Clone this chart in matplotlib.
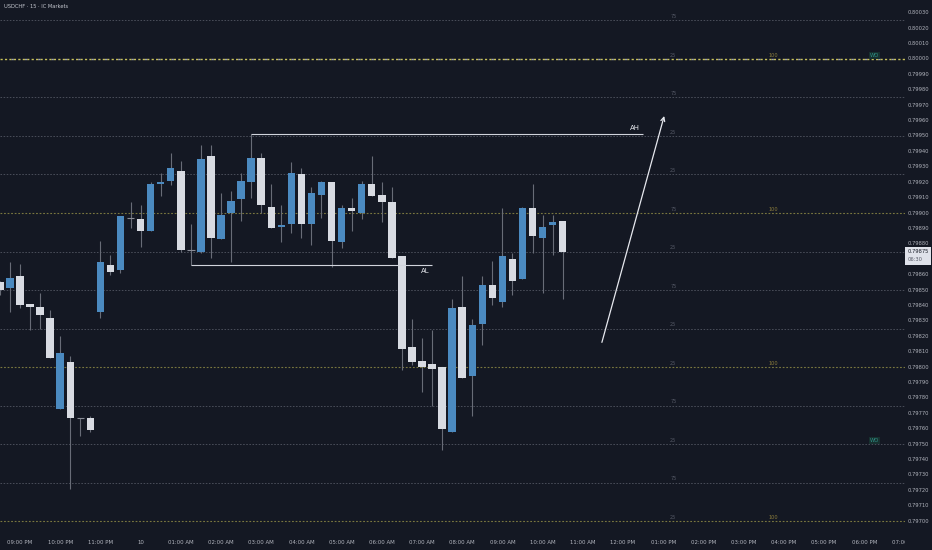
import matplotlib
matplotlib.use("Agg")
import matplotlib.pyplot as plt
from matplotlib.patches import Rectangle

# ---------------- data ----------------
candle_index = list(range(-2, 55))  # 15-minute bars, 0 = 09:00 PM
opens = [0.79855, 0.79851, 0.79859, 0.79841, 0.79839, 0.79832, 0.79773, 0.79803, 0.79767, 0.79767,
         0.79836, 0.79866, 0.79863, 0.79897, 0.79896, 0.79888, 0.79919, 0.79921, 0.79927, 0.79876,
         0.79875, 0.79937, 0.79883, 0.79900, 0.79909, 0.79920, 0.79936, 0.79904, 0.79891, 0.79893,
         0.79925, 0.79893, 0.79912, 0.79920, 0.79881, 0.79903, 0.79900, 0.79919, 0.79912, 0.79907,
         0.79872, 0.79813, 0.79804, 0.79802, 0.79800, 0.79758, 0.79839, 0.79794, 0.79828, 0.79853,
         0.79842, 0.79870, 0.79857, 0.79903, 0.79884, 0.79892, 0.79895]
highs = [0.79856, 0.79868, 0.79867, 0.79841, 0.79848, 0.79837, 0.79820, 0.79807, 0.79767, 0.79768,
         0.79882, 0.79873, 0.79898, 0.79907, 0.79905, 0.79920, 0.79926, 0.79939, 0.79934, 0.79893,
         0.79944, 0.79944, 0.79913, 0.79914, 0.79926, 0.79951, 0.79939, 0.79919, 0.79905, 0.79933,
         0.79929, 0.79917, 0.79921, 0.79920, 0.79905, 0.79910, 0.79921, 0.79937, 0.79920, 0.79917,
         0.79872, 0.79831, 0.79819, 0.79824, 0.79800, 0.79844, 0.79859, 0.79831, 0.79859, 0.79869,
         0.79903, 0.79874, 0.79904, 0.79919, 0.79899, 0.79899, 0.79895]
lows = [0.79847, 0.79836, 0.79838, 0.79824, 0.79825, 0.79806, 0.79773, 0.79721, 0.79755, 0.79758,
        0.79832, 0.79860, 0.79861, 0.79890, 0.79878, 0.79888, 0.79911, 0.79918, 0.79875, 0.79866,
        0.79874, 0.79871, 0.79883, 0.79868, 0.79895, 0.79910, 0.79900, 0.79890, 0.79881, 0.79887,
        0.79884, 0.79879, 0.79897, 0.79865, 0.79877, 0.79888, 0.79896, 0.79911, 0.79894, 0.79871,
        0.79798, 0.79801, 0.79784, 0.79775, 0.79746, 0.79758, 0.79793, 0.79768, 0.79814, 0.79840,
        0.79839, 0.79847, 0.79857, 0.79874, 0.79848, 0.79873, 0.79844]
closes = [0.79850, 0.79858, 0.79840, 0.79839, 0.79834, 0.79806, 0.79809, 0.79767, 0.79767, 0.79759,
          0.79868, 0.79862, 0.79898, 0.79897, 0.79888, 0.79919, 0.79920, 0.79929, 0.79876, 0.79876,
          0.79935, 0.79884, 0.79899, 0.79908, 0.79921, 0.79936, 0.79905, 0.79890, 0.79892, 0.79926,
          0.79893, 0.79913, 0.79920, 0.79882, 0.79903, 0.79901, 0.79919, 0.79911, 0.79907, 0.79871,
          0.79812, 0.79803, 0.79800, 0.79799, 0.79760, 0.79838, 0.79793, 0.79827, 0.79853, 0.79845,
          0.79872, 0.79856, 0.79903, 0.79885, 0.79891, 0.79894, 0.79875]

time_tick_pos = [0, 4, 8, 12, 16, 20, 24, 28, 32, 36, 40, 44, 48, 52, 56, 60, 64, 68, 72, 76, 80, 84, 88]
time_tick_labels = ["09:00 PM", "10:00 PM", "11:00 PM", "10", "01:00 AM", "02:00 AM", "03:00 AM",
                    "04:00 AM", "05:00 AM", "06:00 AM", "07:00 AM", "08:00 AM", "09:00 AM",
                    "10:00 AM", "11:00 AM", "12:00 PM", "01:00 PM", "02:00 PM", "03:00 PM",
                    "04:00 PM", "05:00 PM", "06:00 PM", "07:00 PM"]

price_ticks = [0.80030, 0.80020, 0.80010, 0.80000, 0.79990, 0.79980, 0.79970, 0.79960, 0.79950,
               0.79940, 0.79930, 0.79920, 0.79910, 0.79900, 0.79890, 0.79880, 0.79860, 0.79850,
               0.79840, 0.79830, 0.79820, 0.79810, 0.79800, 0.79790, 0.79780, 0.79770, 0.79760,
               0.79750, 0.79740, 0.79730, 0.79720, 0.79710, 0.79700]

quarter_levels = [0.79700, 0.79725, 0.79750, 0.79775, 0.79800, 0.79825, 0.79850, 0.79875,
                  0.79900, 0.79925, 0.79950, 0.79975, 0.80000, 0.80025]
quarter_tags = ["25", "75", "25", "75", "25", "25", "75", "25", "75", "25", "25", "75", "25", "75"]
hundred_levels = [0.79700, 0.79800, 0.79900, 0.80000]
open_levels = [0.80000, 0.79750]
open_tags = ["WO", "WO"]

ah_price, ah_start, ah_end = 0.79951, 23, 62
al_price, al_start, al_end = 0.79866, 17, 41
arrow_from = (57.9, 0.79816)
arrow_to = (64.1, 0.79963)
countdown = "06:30"

# ---------------- style ----------------
BG = "#141823"
UP = "#4b8ac0"
DOWN = "#d8dbe2"
WICK = "#686c77"
TXT = "#b2b5be"
plt.rcParams["font.family"] = ["DejaVu Sans"]

W, H = 932, 550
fig = plt.figure(figsize=(W / 100, H / 100), dpi=100, facecolor=BG)
ax = fig.add_axes([0, 18 / H, 905 / W, 532 / H], facecolor=BG)
ax.set_xlim(-1.99, 88.06)
ylo, yhi = 0.7969286, 0.8003831
ax.set_ylim(ylo, yhi)
for s in ax.spines.values():
    s.set_visible(False)

# levels
for lv in quarter_levels:
    if any(abs(lv - h) < 1e-9 for h in hundred_levels):
        continue
    ax.axhline(lv, color="#4a4e5a", lw=0.7, ls=(0, (1.6, 1.6)), zorder=1)
for lv in hundred_levels:
    if abs(lv - 0.80000) < 1e-9:
        ax.axhline(lv, color="#c9c25a", lw=1.0, ls=(0, (1.6, 1.6)), zorder=1)
        ax.axhline(lv, color="#a3a6ae", lw=1.0, ls=(1.6, (1.6, 8.0)), zorder=1.1)
    else:
        ax.axhline(lv, color="#7a773f", lw=0.8, ls=(0, (1.6, 1.6)), zorder=1)

for lv, tg in zip(quarter_levels, quarter_tags):
    ax.text(65, lv + 0.000008, tg, color="#555966", fontsize=3.6, ha="center", va="bottom", zorder=2)
for lv in hundred_levels:
    ax.text(75, lv + 0.000008, "100", color="#8c7d3c", fontsize=3.6, ha="center", va="bottom", zorder=2)
for lv, tg in zip(open_levels, open_tags):
    ax.text(85, lv + 0.000008, tg, color="#2f8f86", fontsize=3.8, ha="center", va="bottom", zorder=2,
            bbox=dict(boxstyle="square,pad=0.15", fc="#17302f", ec="none"))

# candles
bw = 0.74
min_h = 0.0000065
for k, o, h, l, c in zip(candle_index, opens, highs, lows, closes):
    ax.vlines(k, l, h, color=WICK, lw=0.8, zorder=3)
    if abs(c - o) < 1e-9:
        ax.hlines(o, k - bw / 2, k + bw / 2, color="#8a8d97", lw=0.8, zorder=4)
        continue
    col = UP if c > o else DOWN
    bottom = min(o, c)
    height = max(abs(c - o), min_h)
    ax.bar(k, height, bottom=bottom, width=bw, color=col, edgecolor="none", zorder=4)

# annotations
ax.hlines(ah_price, ah_start, ah_end, color="#d1d4dc", lw=0.8, zorder=5)
ax.text(ah_end - 0.3, ah_price + 0.00002, "AH", color="#e6e8ee", fontsize=5.0,
        ha="right", va="bottom", zorder=5)
ax.hlines(al_price, al_start, al_end, color="#d1d4dc", lw=0.8, zorder=5)
ax.text(al_end - 0.2, al_price - 0.00002, "AL", color="#e6e8ee", fontsize=5.0,
        ha="right", va="top", zorder=5)
ax.annotate("", xy=arrow_to, xytext=arrow_from,
            arrowprops=dict(arrowstyle="->", color="#e6e8ee", lw=0.9,
                            mutation_scale=7, shrinkA=0, shrinkB=0), zorder=5)

# x axis
ax.set_yticks([])
ax.set_xticks(time_tick_pos)
ax.set_xticklabels(time_tick_labels)
ax.tick_params(axis="x", length=0, pad=6, labelsize=3.9, labelcolor=TXT)

# title
fig.text(4 / W, 1 - 7 / H, "USDCHF · 15 · IC Markets", color="#c4c7cf", fontsize=3.7,
         ha="left", va="center")

# price axis panel
pax = fig.add_axes([905 / W, 18 / H, 27 / W, 532 / H], facecolor=BG, zorder=5)
pax.set_xlim(0, 1)
pax.set_ylim(ylo, yhi)
pax.set_xticks([])
pax.set_yticks([])
for s in pax.spines.values():
    s.set_visible(False)
for p in price_ticks:
    pax.text(0.1, p, f"{p:.5f}", color=TXT, fontsize=3.7, ha="left", va="center")

last = closes[-1]
pax.add_patch(Rectangle((0.0, last - 0.000085), 0.95, 0.000112, fc="#dfe2ea", ec="none", zorder=6))
pax.text(0.1, last, f"{last:.5f}", color="#131722", fontsize=3.7, ha="left", va="center", zorder=7)
pax.text(0.1, last - 0.000055, countdown, color="#555966", fontsize=3.7, ha="left", va="center", zorder=7)

# bottom strip under price axis
fig.patches.append(Rectangle((905 / W, 0), 27 / W, 18 / H, transform=fig.transFigure,
                             fc=BG, ec="none", zorder=10))

fig.savefig("out.png", dpi=100, facecolor=BG)
